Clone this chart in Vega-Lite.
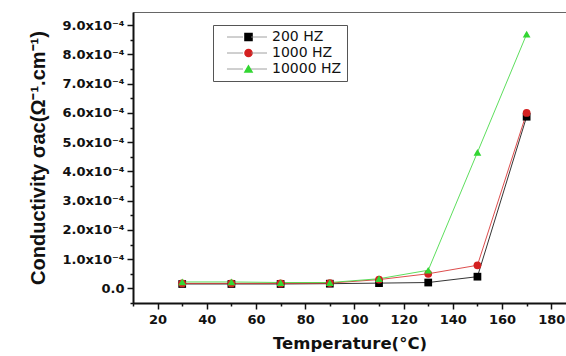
{
  "$schema": "https://vega.github.io/schema/vega-lite/v6.json",
  "autosize": "none",
  "width": 433,
  "height": 291,
  "padding": {"left": 133, "top": 12, "right": 0, "bottom": 53},
  "background": "white",
  "config": {
    "font": "DejaVu Sans",
    "view": {"stroke": "#666666", "strokeWidth": 1}
  },
  "data": {
    "values": [
      {"T": 30, "s": 0.15e-4, "f": "200 HZ"},
      {"T": 50, "s": 0.15e-4, "f": "200 HZ"},
      {"T": 70, "s": 0.15e-4, "f": "200 HZ"},
      {"T": 90, "s": 0.16e-4, "f": "200 HZ"},
      {"T": 110, "s": 0.18e-4, "f": "200 HZ"},
      {"T": 130, "s": 0.2e-4, "f": "200 HZ"},
      {"T": 150, "s": 0.4e-4, "f": "200 HZ"},
      {"T": 170, "s": 5.87e-4, "f": "200 HZ"},
      {"T": 30, "s": 0.17e-4, "f": "1000 HZ"},
      {"T": 50, "s": 0.17e-4, "f": "1000 HZ"},
      {"T": 70, "s": 0.17e-4, "f": "1000 HZ"},
      {"T": 90, "s": 0.18e-4, "f": "1000 HZ"},
      {"T": 110, "s": 0.3e-4, "f": "1000 HZ"},
      {"T": 130, "s": 0.5e-4, "f": "1000 HZ"},
      {"T": 150, "s": 0.79e-4, "f": "1000 HZ"},
      {"T": 170, "s": 6.0e-4, "f": "1000 HZ"},
      {"T": 30, "s": 0.22e-4, "f": "10000 HZ"},
      {"T": 50, "s": 0.22e-4, "f": "10000 HZ"},
      {"T": 70, "s": 0.2e-4, "f": "10000 HZ"},
      {"T": 90, "s": 0.2e-4, "f": "10000 HZ"},
      {"T": 110, "s": 0.33e-4, "f": "10000 HZ"},
      {"T": 130, "s": 0.62e-4, "f": "10000 HZ"},
      {"T": 150, "s": 4.65e-4, "f": "10000 HZ"},
      {"T": 170, "s": 8.69e-4, "f": "10000 HZ"}
    ]
  },
  "encoding": {
    "x": {
      "field": "T", "type": "quantitative",
      "scale": {"domain": [10, 186], "nice": false, "zero": false},
      "axis": {
        "title": "Temperature(°C)",
        "titleFont": "DejaVu Sans", "titleFontSize": 16.5, "titleFontWeight": "bold", "titleColor": "#111",
        "titlePadding": 9,
        "values": [10, 20, 30, 40, 50, 60, 70, 80, 90, 100, 110, 120, 130, 140, 150, 160, 170, 180],
        "labelExpr": "datum.value % 20 == 0 ? datum.label : ''",
        "labelFont": "DejaVu Sans", "labelFontSize": 13, "labelFontWeight": "bold", "labelColor": "#111", "labelPadding": 4,
        "tickSize": {"condition": {"test": "datum.value % 20 == 0", "value": 6}, "value": 3},
        "tickColor": "#111", "tickWidth": 1.5,
        "domainColor": "#111", "domainWidth": 2,
        "grid": false
      }
    },
    "y": {
      "field": "s", "type": "quantitative",
      "scale": {"domain": [-0.5e-4, 9.45e-4], "nice": false, "zero": false},
      "axis": {
        "title": "Conductivity σac(Ω⁻¹.cm⁻¹)",
        "titleFont": "Liberation Sans", "titleFontSize": 20, "titleFontWeight": "bold", "titleColor": "#111",
        "titlePadding": 13,
        "values": [-0.5e-4, 0, 0.5e-4, 1e-4, 1.5e-4, 2e-4, 2.5e-4, 3e-4, 3.5e-4, 4e-4, 4.5e-4, 5e-4, 5.5e-4, 6e-4, 6.5e-4, 7e-4, 7.5e-4, 8e-4, 8.5e-4, 9e-4],
        "labelExpr": "abs(round(datum.value*2e4)) % 2 == 1 || datum.value < 0 ? '' : (round(datum.value*2e4) == 0 ? '0.0' : format(datum.value*1e4, '.1f') + 'x10⁻⁴')",
        "labelFont": "DejaVu Sans", "labelFontSize": 13, "labelFontWeight": "bold", "labelColor": "#111", "labelPadding": 3,
        "tickSize": {"condition": {"test": "abs(round(datum.value*2e4)) % 2 == 0", "value": 6}, "value": 3},
        "tickColor": "#111", "tickWidth": 1.5,
        "domainColor": "#111", "domainWidth": 2,
        "grid": false
      }
    },
    "color": {
      "field": "f", "type": "nominal",
      "scale": {"domain": ["200 HZ", "1000 HZ", "10000 HZ"], "range": ["#000000", "#d42020", "#33d633"]},
      "legend": {
        "title": null,
        "orient": "none", "legendX": 80, "legendY": 13,
        "strokeColor": "#555", "padding": 5,
        "labelFont": "DejaVu Sans", "labelFontSize": 14, "labelColor": "#111",
        "symbolSize": 50, "rowPadding": 2, "labelOffset": 16.5, "symbolOffset": 23.5,
        "symbolOpacity": 1
      }
    },
    "shape": {
      "field": "f", "type": "nominal",
      "scale": {"domain": ["200 HZ", "1000 HZ", "10000 HZ"], "range": ["square", "circle", "triangle-up"]},
      "legend": null
    }
  },
  "layer": [
    {"mark": {"type": "line", "strokeWidth": 0.8}},
    {"mark": {"type": "point", "filled": true, "size": 60, "opacity": 1}},
    {
      "transform": [{"filter": "datum.T < 0"}],
      "mark": {"type": "point", "filled": false, "opacity": 1, "strokeWidth": 0.8},
      "encoding": {
        "size": {
          "field": "f", "type": "nominal",
          "scale": {"domain": ["200 HZ", "1000 HZ", "10000 HZ", "-"], "range": [100, 100]},
          "legend": {
            "title": null,
            "values": ["200 HZ", "1000 HZ", "10000 HZ"],
            "orient": "none", "legendX": 80, "legendY": 13,
            "padding": 5,
            "labelFont": "DejaVu Sans", "labelFontSize": 14, "labelColor": "transparent",
            "symbolType": "M-4,0H-0.8M0.8,0H4",
            "rowPadding": 2, "labelOffset": 15, "symbolOffset": 22,
            "symbolStrokeColor": "#888888", "symbolStrokeWidth": 0.8, "symbolOpacity": 1
          }
        }
      }
    }
  ]
}
